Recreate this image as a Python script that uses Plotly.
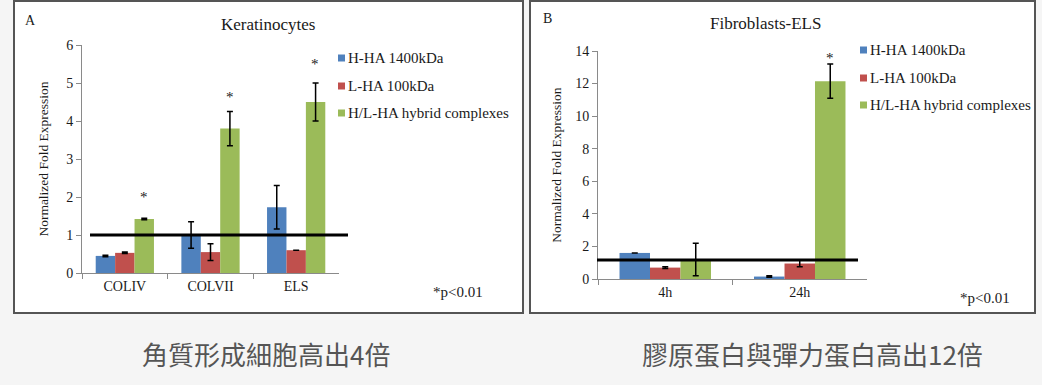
import plotly.graph_objects as go

W, H = 1042, 385

# ---------------- data ----------------
series_names = ["H-HA 1400kDa", "L-HA 100kDa", "H/L-HA hybrid complexes"]
series_colors = ["#4F81BD", "#C0504D", "#9BBB59"]

a_categories = ["COLIV", "COLVII", "ELS"]
a_values = [
    [0.45, 1.00, 1.73],
    [0.53, 0.55, 0.60],
    [1.42, 3.80, 4.50],
]
a_errors = [
    [0.02, 0.35, 0.57],
    [0.02, 0.22, 0.0],
    [0.02, 0.45, 0.50],
]
a_star_y = [2.0, 4.62, 5.5]
a_ref_line = 1.0

b_categories = ["4h", "24h"]
b_values = [
    [1.60, 0.15],
    [0.70, 0.95],
    [1.20, 12.15],
]
b_errors = [
    [0.0, 0.05],
    [0.05, 0.20],
    [1.00, 1.05],
]
b_star_y = [None, 13.6]
b_ref_line = 1.17

caption_left = "角質形成細胞高出4倍"
caption_right = "膠原蛋白與彈力蛋白高出12倍"


def px(x):
    return x / W


def py(y):
    return 1 - y / H


serif = "Liberation Serif, Times New Roman, serif"
tc = "#1a1a1a"

fig = go.Figure()

for i in range(3):
    fig.add_trace(go.Bar(
        x=a_categories, y=a_values[i], name=series_names[i],
        marker=dict(color=series_colors[i], line=dict(width=0)),
        error_y=dict(type="data", array=a_errors[i], color="black",
                     thickness=1.5, width=3),
        xaxis="x", yaxis="y", showlegend=False,
    ))
for i in range(3):
    fig.add_trace(go.Bar(
        x=b_categories, y=b_values[i], name=series_names[i],
        marker=dict(color=series_colors[i], line=dict(width=0)),
        error_y=dict(type="data", array=b_errors[i], color="black",
                     thickness=1.5, width=3),
        xaxis="x2", yaxis="y2", showlegend=False,
    ))

axis_common = dict(
    showgrid=False, zeroline=False, showline=True, linecolor="#8a8a8a",
    linewidth=1, ticks="outside", tickcolor="#8a8a8a", ticklen=5,
    tickfont=dict(family=serif, size=14, color=tc), automargin=False,
)
ytitle_font = dict(family=serif, size=13.5, color=tc)

fig.update_layout(
    width=W, height=H,
    margin=dict(l=0, r=0, t=0, b=0, pad=0),
    paper_bgcolor="#f5f5f5",
    plot_bgcolor="white",
    barmode="group",
    bargap=0.32,
    bargroupgap=0,
    showlegend=False,
    xaxis=dict(domain=[px(82), px(339)], anchor="y", tickson="boundaries",
               **axis_common),
    yaxis=dict(domain=[py(273), py(45)], anchor="x", range=[0, 6],
               dtick=1, title=dict(text="Normalized Fold Expression",
                                   font=ytitle_font, standoff=14),
               **axis_common),
    xaxis2=dict(domain=[px(598), px(867)], anchor="y2", tickson="boundaries",
                **axis_common),
    yaxis2=dict(domain=[py(279), py(51)], anchor="x2", range=[0, 14],
                dtick=2, title=dict(text="Normalized Fold Expression",
                                    font=ytitle_font, standoff=10),
                **axis_common),
)

shapes = []
# panel boxes
shapes.append(dict(type="rect", xref="paper", yref="paper",
                   x0=px(14), x1=px(523), y0=py(313), y1=py(1),
                   line=dict(color="#555", width=2), fillcolor="white",
                   layer="below"))
shapes.append(dict(type="rect", xref="paper", yref="paper",
                   x0=px(530), x1=px(1035), y0=py(313), y1=py(1),
                   line=dict(color="#555", width=2), fillcolor="white",
                   layer="below"))
# reference lines
shapes.append(dict(type="line", xref="paper", yref="y",
                   x0=px(90), x1=px(348), y0=a_ref_line, y1=a_ref_line,
                   line=dict(color="black", width=3)))
shapes.append(dict(type="line", xref="paper", yref="y2",
                   x0=px(597), x1=px(858), y0=b_ref_line, y1=b_ref_line,
                   line=dict(color="black", width=3)))

ann = []
# manual legends
legend_a = dict(x=338, ys=[58, 86, 113])
legend_b = dict(x=860, ys=[50, 78, 105])
for lg in (legend_a, legend_b):
    for name, col, yy in zip(series_names, series_colors, lg["ys"]):
        shapes.append(dict(type="rect", xref="paper", yref="paper",
                           x0=px(lg["x"]), x1=px(lg["x"] + 7),
                           y0=py(yy + 3.5), y1=py(yy - 3.5),
                           fillcolor=col, line=dict(width=0)))
        ann.append(dict(x=px(lg["x"] + 8), y=py(yy), xref="paper", yref="paper",
                        text=name, showarrow=False, xanchor="left",
                        yanchor="middle",
                        font=dict(family=serif, size=15, color=tc)))
fig.update_layout(shapes=shapes)

# stars above green bars
for c, s in zip(a_categories, a_star_y):
    if s is not None:
        ann.append(dict(x=c, y=s, xref="x", yref="y", text="*", showarrow=False,
                        xshift=19, font=dict(family=serif, size=15, color=tc)))
for c, s in zip(b_categories, b_star_y):
    if s is not None:
        ann.append(dict(x=c, y=s, xref="x2", yref="y2", text="*", showarrow=False,
                        xshift=30, font=dict(family=serif, size=15, color=tc)))


def label(x, y, text, size, family=serif, color=tc, **kw):
    d = dict(x=px(x), y=py(y), xref="paper", yref="paper", text=text,
             showarrow=False, xanchor="center", yanchor="middle",
             font=dict(family=family, size=size, color=color))
    d.update(kw)
    return d


ann += [
    label(268, 24, "Keratinocytes", 17),
    label(765, 23, "Fibroblasts-ELS", 17),
    label(30, 20, "A", 14),
    label(547, 18, "B", 14),
    label(458, 292, "*p<0.01", 15),
    label(985, 298, "*p<0.01", 15),
    label(266, 353, caption_left, 26, family="Noto Sans CJK TC", color="#555"),
    label(812, 353, caption_right, 26, family="Noto Sans CJK TC", color="#555"),
]
fig.update_layout(annotations=ann)

fig.write_html("out.html",
               config={"displayModeBar": False},
               post_script="document.body.style.margin='0';"
                           "document.body.style.overflow='hidden';")
